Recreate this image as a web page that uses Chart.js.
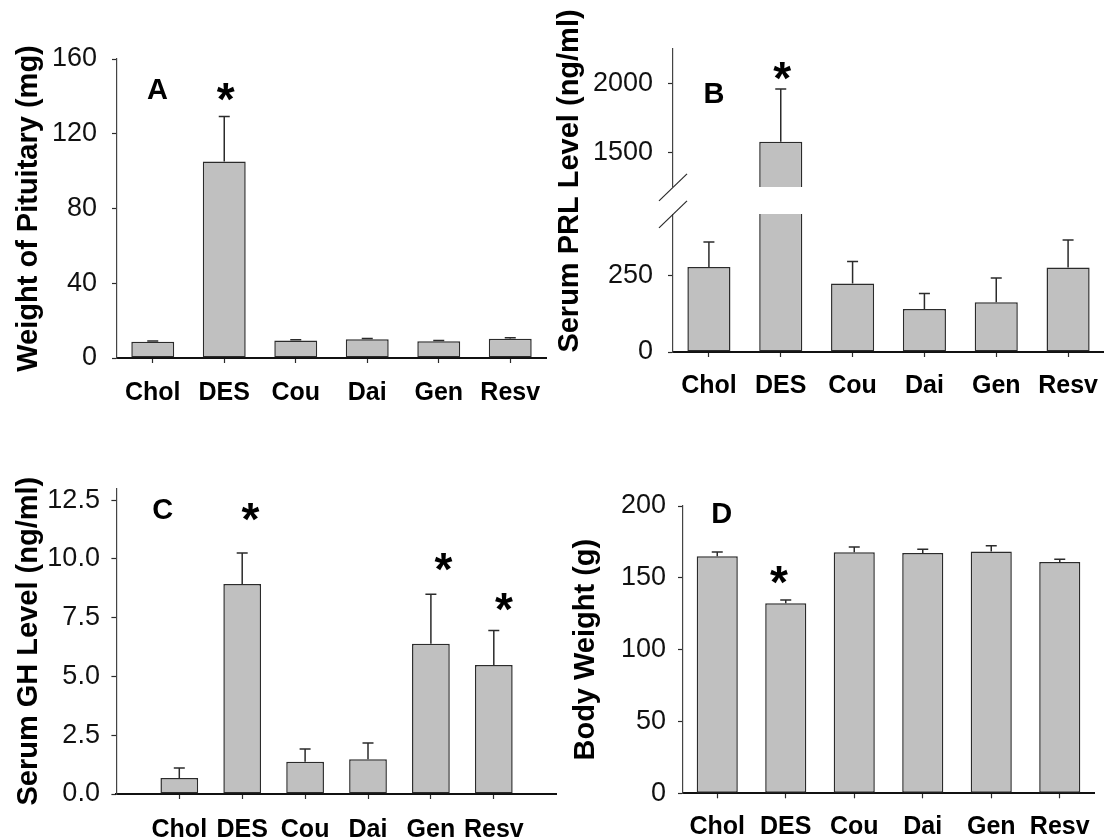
<!DOCTYPE html>
<html>
<head>
<meta charset="utf-8">
<script src="https://cdn.jsdelivr.net/npm/chart.js@4.4.1/dist/chart.umd.min.js"></script>
<style>
  html, body { margin: 0; padding: 0; background: #fff; }
  #wrap { position: relative; width: 1104px; height: 840px; }
  #wrap canvas { position: absolute; left: 0; top: 0; }
</style>
</head>
<body>
<div id="wrap">
  <canvas id="chartA" width="1104" height="840"></canvas>
  <canvas id="chartB" width="1104" height="840"></canvas>
  <canvas id="chartC" width="1104" height="840"></canvas>
  <canvas id="chartD" width="1104" height="840"></canvas>
</div>
<script>
// groups on the x axis
const categories = ["Chol", "DES", "Cou", "Dai", "Gen", "Resv"];

// A: weight of pituitary (mg), mean and upper SEM
const pituitaryMean = [8.7, 105.1, 9.3, 10.0, 8.9, 10.3];
const pituitarySem = [0.4, 24.1, 0.4, 0.5, 0.5, 0.5];

// B: serum PRL (ng/ml), axis broken between 450 and 1250
const prlMean = [278, 1579, 224, 141, 163, 276];
const prlSem = [82, 378, 72, 50, 79, 90];
const prlTicks = [0, 250, 1500, 2000];

// C: serum GH (ng/ml)
const ghMean = [0.68, 8.93, 1.37, 1.48, 6.39, 5.49];
const ghSem = [0.43, 1.32, 0.54, 0.69, 2.10, 1.46];

// D: body weight (g)
const bodyMean = [165.0, 132.3, 167.8, 167.3, 168.3, 161.1];
const bodySem = [3.0, 2.3, 3.7, 2.6, 4.1, 1.8];

const FONT = '"Liberation Sans", Arial, Helvetica, sans-serif';
const INK = "#2b2b2b";
const BAR_FILL = "#c0c0c0";
const X_AXIS_H = 46;

// linear scale with a gap: values between lowMax and highMin are squeezed into the break
class BrokenLinearScale extends Chart.LinearScale {
  static id = "brokenLinear";
  static defaults = {};

  _parts() {
    const b = this.options.axisBreak;
    const h = this.bottom - this.top;
    const lowH = h * b.lowFrac;
    const gapH = h * b.gapFrac;
    return { b, lowH, gapH, highH: h - lowH - gapH };
  }

  getPixelForValue(value) {
    const { b, lowH, gapH, highH } = this._parts();
    if (value <= b.lowMax) return this.bottom - (value - this.min) / (b.lowMax - this.min) * lowH;
    if (value >= b.highMin) return this.bottom - lowH - gapH - (value - b.highMin) / (this.max - b.highMin) * highH;
    return this.bottom - lowH - (value - b.lowMax) / (b.highMin - b.lowMax) * gapH;
  }

  getValueForPixel(pixel) {
    const { b, lowH, gapH, highH } = this._parts();
    const d = this.bottom - pixel;
    if (d <= lowH) return this.min + d / lowH * (b.lowMax - this.min);
    if (d <= lowH + gapH) return b.lowMax + (d - lowH) / gapH * (b.highMin - b.lowMax);
    return b.highMin + (d - lowH - gapH) / highH * (this.max - b.highMin);
  }
}
Chart.register(BrokenLinearScale);

const errorBars = {
  id: "errorBars",
  afterDatasetsDraw(chart, args, opts) {
    if (!opts.values) return;
    const { ctx } = chart;
    const meta = chart.getDatasetMeta(0);
    const data = chart.data.datasets[0].data;
    const y = chart.scales.y;
    ctx.save();
    ctx.strokeStyle = INK;
    ctx.lineWidth = 1.5;
    meta.data.forEach((bar, i) => {
      const err = opts.values[i];
      if (data[i] == null || err == null) return;
      const top = y.getPixelForValue(data[i] + err);
      ctx.beginPath();
      ctx.moveTo(bar.x, bar.y);
      ctx.lineTo(bar.x, top);
      ctx.moveTo(bar.x - 5.5, top);
      ctx.lineTo(bar.x + 5.5, top);
      ctx.stroke();
    });
    ctx.restore();
  }
};

const axisBreakMark = {
  id: "axisBreakMark",
  afterDatasetsDraw(chart) {
    const y = chart.scales.y;
    if (y.type !== "brokenLinear") return;
    const b = y.options.axisBreak;
    const { ctx, chartArea } = chart;
    const upper = y.getPixelForValue(b.highMin);
    const lower = y.getPixelForValue(b.lowMax);
    ctx.clearRect(chartArea.left - 20, upper, chartArea.right - chartArea.left + 20, lower - upper);
    ctx.save();
    ctx.strokeStyle = INK;
    ctx.lineWidth = 1.2;
    [upper, lower].forEach(py => {
      ctx.beginPath();
      ctx.moveTo(chartArea.left - 14, py + 13.5);
      ctx.lineTo(chartArea.left + 14, py - 13.5);
      ctx.stroke();
    });
    ctx.restore();
  }
};

const panelMarks = {
  id: "panelMarks",
  afterDraw(chart, args, opts) {
    const { ctx, chartArea, scales } = chart;
    ctx.save();
    ctx.fillStyle = "#000";
    ctx.textAlign = "center";
    if (opts.letter) {
      ctx.font = `bold 29px ${FONT}`;
      ctx.textBaseline = "alphabetic";
      ctx.fillText(opts.letter.text, chartArea.left + opts.letter.dx, chartArea.top + opts.letter.dy + 10.4);
    }
    (opts.stars || []).forEach(s => {
      const x = scales.x.getPixelForValue(chart.data.labels.indexOf(s.cat) + s.shift);
      const py = scales.y.getPixelForValue(s.y);
      ctx.font = `bold 46px ${FONT}`;
      ctx.textBaseline = "alphabetic";
      ctx.fillText("*", x, py + 26);
    });
    if (opts.sideTitle) {
      const t = opts.sideTitle;
      ctx.translate(t.x, t.y);
      ctx.rotate(-Math.PI / 2);
      ctx.font = `bold 29px ${FONT}`;
      ctx.textBaseline = "middle";
      ctx.fillText(t.text, 0, 0);
    }
    ctx.restore();
  }
};

function drawPanel(canvasId, p) {
  const canvas = document.getElementById(canvasId);
  if (!canvas) return;

  const yScale = {
    type: p.yType || "linear",
    min: p.yMin,
    max: p.yMax,
    ticks: {
      stepSize: p.yStep,
      includeBounds: false,
      color: "#111",
      padding: p.tickPad,
      font: { family: FONT, size: 27 },
      callback: p.yFormat || (v => v),
    },
    grid: { display: true, drawOnChartArea: false, tickLength: 5, color: INK, tickWidth: 1.2 },
    border: { display: true, color: "#444", width: 1.2 },
    title: {
      display: !!p.yTitle,
      text: p.yTitle,
      color: "#000",
      padding: { top: 0, bottom: 0 },
      font: { family: FONT, size: 29, weight: "bold" },
    },
    afterFit: s => { s.width = p.yWidth; s.paddingTop = 0; s.paddingBottom = 0; },
  };
  if (p.axisBreak) yScale.axisBreak = p.axisBreak;
  if (p.yTicks) yScale.afterBuildTicks = s => { s.ticks = p.yTicks.map(v => ({ value: v })); };

  const config = {
    type: "bar",
    data: {
      labels: p.labels,
      datasets: [{
        data: p.values,
        backgroundColor: BAR_FILL,
        borderColor: INK,
        borderWidth: 1.5,
        borderSkipped: false,
        barPercentage: 0.6,
        categoryPercentage: 1,
        clip: 0,
      }]
    },
    options: {
      responsive: false,
      animation: false,
      events: [],
      layout: { padding: p.padding },
      plugins: {
        legend: { display: false },
        tooltip: { enabled: false },
        errorBars: { values: p.errors },
        panelMarks: { letter: p.letter, stars: p.stars, sideTitle: p.sideTitle },
      },
      scales: {
        x: {
          type: "category",
          offset: p.offset !== false,
          ticks: {
            color: "#000",
            padding: p.labelPad,
            autoSkip: false,
            maxRotation: 0,
            font: { family: FONT, size: 25, weight: "bold" },
          },
          grid: {
            display: true,
            offset: false,
            drawOnChartArea: false,
            tickLength: 5,
            tickWidth: 1.2,
            color: INK,
            tickColor: c => (p.labels[c.index] ? INK : "rgba(0,0,0,0)"),
          },
          border: { display: true, color: "#111", width: 2 },
          afterFit: s => { s.height = X_AXIS_H; s.paddingLeft = 0; s.paddingRight = 0; },
        },
        y: yScale,
      }
    },
    plugins: [errorBars, axisBreakMark, panelMarks],
  };

  return new Chart(canvas.getContext("2d"), config);
}

drawPanel("chartA", {
  labels: categories,
  values: pituitaryMean,
  errors: pituitarySem,
  yMin: 0, yMax: 160, yStep: 40,
  yTitle: "Weight of Pituitary (mg)",
  yWidth: 105.8, tickPad: 15, labelPad: 15,
  padding: { left: 11.2, top: 59, right: 558, bottom: 840 - 358 - X_AXIS_H },
  letter: { text: "A", dx: 40.5, dy: 29.7 },
  stars: [{ cat: "DES", y: 144, shift: 0.02 }],
});

drawPanel("chartB", {
  labels: categories,
  values: prlMean,
  errors: prlSem,
  yType: "brokenLinear",
  yMin: 0, yMax: 2250,
  yTicks: prlTicks,
  axisBreak: { lowMax: 450, highMin: 1250, lowFrac: 0.453, gapFrac: 0.089 },
  yWidth: 100, tickPad: 15, labelPad: 14,
  padding: { left: 573, top: 48.3, right: 0, bottom: 840 - 352 - X_AXIS_H },
  letter: { text: "B", dx: 41, dy: 44.2 },
  stars: [{ cat: "DES", y: 2108, shift: 0.02 }],
  sideTitle: { text: "Serum PRL Level (ng/ml)", x: 569.8, y: 181 },
});

drawPanel("chartC", {
  labels: ["", ...categories, ""],
  values: [null, ...ghMean, null],
  errors: [null, ...ghSem, null],
  offset: false,
  yMin: 0, yMax: 13, yStep: 2.5,
  yFormat: v => v.toFixed(1),
  yTitle: "Serum GH Level (ng/ml)",
  yWidth: 105, tickPad: 11.5, labelPad: 16,
  padding: { left: 11.4, top: 488.3, right: 547.3, bottom: 840 - 794 - X_AXIS_H },
  letter: { text: "C", dx: 46.3, dy: 20.7 },
  stars: [
    { cat: "DES", y: 12.1, shift: 0.13 },
    { cat: "Gen", y: 10.0, shift: 0.2 },
    { cat: "Resv", y: 8.3, shift: 0.16 },
  ],
});

drawPanel("chartD", {
  labels: categories,
  values: bodyMean,
  errors: bodySem,
  yMin: 0, yMax: 200, yStep: 50,
  yTitle: "Body Weight (g)",
  yWidth: 114.1, tickPad: 12, labelPad: 14,
  padding: { left: 568.9, top: 506, right: 10, bottom: 840 - 793.3 - X_AXIS_H },
  letter: { text: "D", dx: 38.6, dy: 6.5 },
  stars: [{ cat: "DES", y: 154.3, shift: -0.1 }],
});
</script>
</body>
</html>
